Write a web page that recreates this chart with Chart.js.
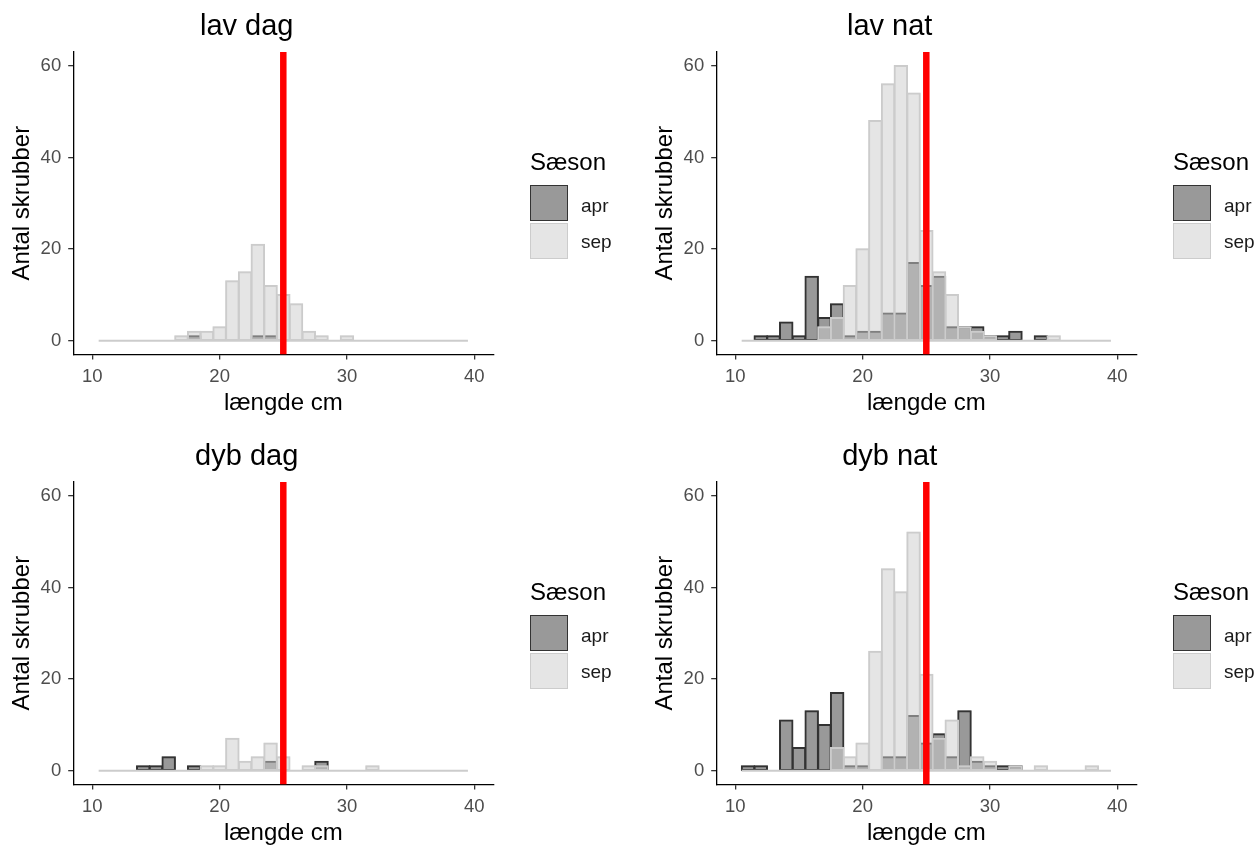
<!DOCTYPE html>
<html>
<head>
<meta charset="utf-8">
<script src="https://cdn.jsdelivr.net/npm/chart.js@4.4.1/dist/chart.umd.min.js"></script>
<style>
html,body{margin:0;padding:0;background:#fff;overflow:hidden;width:1259px;height:848px;}
.panel{position:absolute;width:643px;height:430px;}
.panel canvas{position:absolute;left:0;top:0;}
.lg{position:absolute;font-family:"Liberation Sans",Arial,sans-serif;line-height:1;white-space:nowrap;color:#000;}
.lgt{left:530px;top:149.7px;font-size:24px;}
.key{position:absolute;left:530px;width:38px;height:36px;box-sizing:border-box;border-width:1.5px;border-style:solid;}
.k1{top:185px;border-color:#333;background:rgba(51,51,51,0.5);}
.k2{top:223px;border-color:#ccc;background:rgba(204,204,204,0.5);}
.l1{left:581px;top:195.6px;font-size:19px;color:#1a1a1a;}
.l2{left:581px;top:231.6px;font-size:19px;color:#1a1a1a;}
</style>
</head>
<body>
<script>
// ---- data ----
const bins = [11,12,13,14,15,16,17,18,19,20,21,22,23,24,25,26,27,28,29,30,31,32,33,34,35,36,37,38,39];
const xTickValues = [10,20,30,40];
const yTickValues = [0,20,40,60];
const xRange = [8.5,41.5];
const yRange = [-3,63];
const cutoff = 25;
const seasons = ['apr','sep'];
const legendTitle = 'Sæson';
const xTitle = 'længde cm';
const yTitle = 'Antal skrubber';
const panelTitles = ['lav dag','lav nat','dyb dag','dyb nat'];

const lavDagApr = [0,0,0,0,0,0,0,1,0,0,0,0,1,1,0,0,0,0,0,0,0,0,0,0,0,0,0,0,0];
const lavDagSep = [0,0,0,0,0,0,1,2,2,3,13,15,21,12,10,8,2,1,0,1,0,0,0,0,0,0,0,0,0];
const lavNatApr = [0,1,1,4,1,14,5,8,1,2,2,6,6,17,12,14,3,3,3,1,1,2,0,1,0,0,0,0,0];
const lavNatSep = [0,0,0,0,0,0,3,5,12,20,48,56,60,54,24,15,10,3,2,1,0,0,0,0,1,0,0,0,0];
const dybDagApr = [0,0,0,1,1,3,0,1,0,0,0,0,0,2,0,0,0,2,0,0,0,0,0,0,0,0,0,0,0];
const dybDagSep = [0,0,0,0,0,0,0,0,1,1,7,2,3,6,3,0,1,1,0,0,0,1,0,0,0,0,0,0,0];
const dybNatApr = [1,1,0,11,5,13,10,17,1,1,0,3,3,12,6,8,3,13,2,1,1,1,0,0,0,0,0,0,0];
const dybNatSep = [0,0,0,0,0,0,0,5,3,6,26,44,39,52,21,7,11,1,3,2,0,1,0,1,0,0,0,1,0];

// ---- layout / style ----
const FONT = '"Liberation Sans", Arial, sans-serif';
const panels = [
  {title: panelTitles[0], apr: lavDagApr, sep: lavDagSep, left: 0,   top: 0},
  {title: panelTitles[1], apr: lavNatApr, sep: lavNatSep, left: 643, top: 0},
  {title: panelTitles[2], apr: dybDagApr, sep: dybDagSep, left: 0,   top: 430},
  {title: panelTitles[3], apr: dybNatApr, sep: dybNatSep, left: 643, top: 430}
];

function axisCommon() {
  return {
    grid: {display: true, drawOnChartArea: false, drawTicks: true, tickLength: 5,
           tickColor: '#333333', color: '#333333', lineWidth: 1.3, offset: false},
    border: {display: true, color: '#000000', width: 1.3}
  };
}

panels.forEach(p => {
  const div = document.createElement('div');
  div.className = 'panel';
  div.style.left = p.left + 'px';
  div.style.top = p.top + 'px';
  const cv = document.createElement('canvas');
  cv.width = 643; cv.height = 430;
  cv.style.width = '643px'; cv.style.height = '430px';
  div.appendChild(cv);
  div.insertAdjacentHTML('beforeend',
    '<div class="lg lgt">' + legendTitle + '</div>' +
    '<div class="key k1"></div><div class="key k2"></div>' +
    '<div class="lg l1">' + seasons[0] + '</div>' +
    '<div class="lg l2">' + seasons[1] + '</div>');
  document.body.appendChild(div);

  const xc = axisCommon(), yc = axisCommon();
  new Chart(cv, {
    type: 'bar',
    data: {
      datasets: [
        {type: 'line', label: 'cutoff',
         data: [{x: cutoff, y: yRange[0]}, {x: cutoff, y: yRange[1]}],
         borderColor: '#ff0000', borderWidth: 6.5, pointRadius: 0, borderCapStyle: 'butt', order: 1},
        {type: 'line', label: 'base',
         data: [{x: bins[0] - 0.5, y: 0}, {x: bins[bins.length - 1] + 0.5, y: 0}],
         borderColor: '#cccccc', borderWidth: 2, pointRadius: 0, order: 2},
        {label: seasons[1], data: bins.map((b, i) => ({x: b, y: p.sep[i]})),
         backgroundColor: 'rgba(204,204,204,0.5)', borderColor: '#cccccc', borderWidth: 0.3,
         inflateAmount: 0.85,
         borderSkipped: false, barPercentage: 1, categoryPercentage: 1, order: 3},
        {label: seasons[0], data: bins.map((b, i) => ({x: b, y: p.apr[i]})),
         backgroundColor: 'rgba(51,51,51,0.5)', borderColor: '#333333', borderWidth: 0.3,
         inflateAmount: 0.85,
         borderSkipped: false, barPercentage: 1, categoryPercentage: 1, order: 4}
      ]
    },
    options: {
      responsive: false,
      animation: false,
      layout: {padding: {left: 0, right: 149.6, top: 0, bottom: 0}},
      plugins: {
        legend: {display: false},
        tooltip: {enabled: false},
        title: {display: true, text: p.title, color: '#000000',
                font: {family: FONT, size: 29, weight: 'normal'},
                padding: {top: 9.25, bottom: 7.95}}
      },
      scales: {
        x: {
          type: 'linear', min: xRange[0], max: xRange[1], stacked: true, offset: false,
          afterBuildTicks: s => { s.ticks = xTickValues.map(v => ({value: v})); },
          afterFit: s => { s.height = 75.5; },
          grid: xc.grid, border: xc.border,
          ticks: {color: '#4d4d4d', font: {family: FONT, size: 18.5}, padding: 6,
                  maxRotation: 0, autoSkip: false},
          title: {display: true, text: xTitle, color: '#000000',
                  font: {family: FONT, size: 24}, padding: {top: 0, bottom: 12.3}}
        },
        y: {
          type: 'linear', min: yRange[0], max: yRange[1], stacked: false,
          afterBuildTicks: s => { s.ticks = yTickValues.map(v => ({value: v})); },
          afterFit: s => { s.width = 73.2; },
          grid: yc.grid, border: yc.border,
          ticks: {color: '#4d4d4d', font: {family: FONT, size: 18.5}, padding: 7, autoSkip: false},
          title: {display: true, text: yTitle, color: '#000000',
                  font: {family: FONT, size: 24}, padding: {top: 7.6, bottom: 0}}
        }
      }
    }
  });
});
</script>
</body>
</html>
